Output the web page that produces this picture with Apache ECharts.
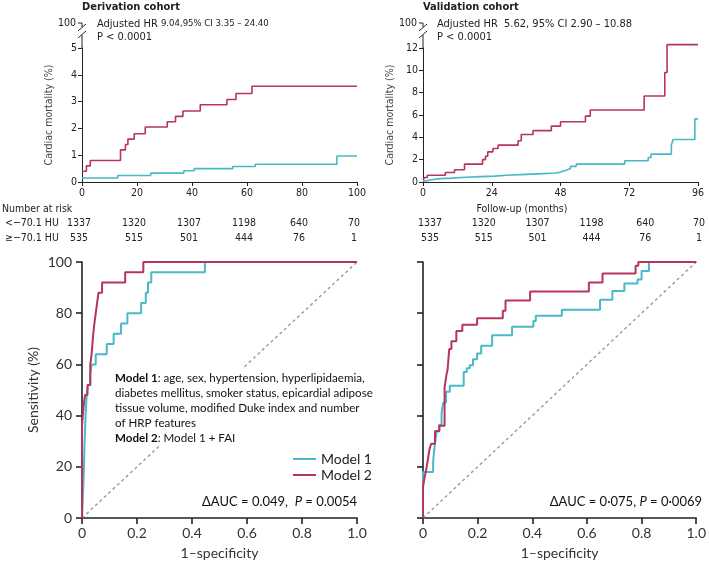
<!DOCTYPE html>
<html><head><meta charset="utf-8">
<script src="https://cdn.jsdelivr.net/npm/echarts@6/dist/echarts.min.js"></script>
<style>html,body{margin:0;padding:0;background:#fff}#c{width:709px;height:562px}</style>
</head><body><div id="c"></div>
<script>
// ---------- Kaplan-Meier data (time, cumulative cardiac mortality %) ----------
const derivHighT = [0, 1.6, 3, 14, 15.8, 16.7, 19, 23, 31, 34, 36.7, 43, 52.7, 56, 61.8, 100];
const derivHighV = [0.4, 0.6, 0.8, 1.2, 1.4, 1.6, 1.8, 2.05, 2.25, 2.45, 2.65, 2.88, 3.08, 3.3, 3.57, 3.57];
const derivLowT = [0, 13, 25, 37, 40.8, 54.8, 63, 92.7, 100];
const derivLowV = [0.15, 0.24, 0.33, 0.42, 0.5, 0.58, 0.66, 0.97, 0.97];

const validHighT = [0, 0.6, 1.5, 7.8, 11, 14.5, 20.8, 21.8, 22.6, 24.4, 26.2, 33.2, 34.3, 38.4, 44.8, 48, 56.7, 58.4, 77.2, 84.4, 85.2, 96];
const validHighV = [0.2, 0.4, 0.6, 0.85, 1.1, 1.6, 2.0, 2.3, 2.7, 3.0, 3.3, 3.7, 4.25, 4.6, 5.0, 5.4, 5.9, 6.45, 7.7, 9.8, 12.3, 12.3];
const validLowT = [0, 1, 3, 6, 10, 15, 20, 25, 29, 36, 42, 46, 47.5, 48.5, 50, 51.5, 53.5, 70.4, 78.6, 79.6, 86.7, 87.3, 94.9, 96];
const validLowV = [0.1, 0.2, 0.3, 0.35, 0.42, 0.48, 0.53, 0.6, 0.68, 0.75, 0.8, 0.85, 0.95, 1.05, 1.2, 1.4, 1.6, 1.9, 2.2, 2.5, 3.3, 3.8, 5.65, 5.65];

const derivTicks = [0, 20, 40, 60, 80, 100];
const validTicks = [0, 24, 48, 72, 96];

// ---------- Number at risk ----------
const riskGroups = ['<\u221270.1 HU', '\u2265\u221270.1 HU'];
const riskLow = [1337, 1320, 1307, 1198, 640, 70];
const riskHigh = [535, 515, 501, 444, 76, 1];

// ---------- ROC data (1-specificity, sensitivity %) ----------
const m1LeftX = [0, 0.003, 0.006, 0.009, 0.013, 0.017, 0.022, 0.03, 0.035, 0.05, 0.09, 0.115, 0.142, 0.165, 0.215, 0.232, 0.24, 0.252, 0.447, 1];
const m1LeftY = [0, 8, 16, 28, 40, 48, 52, 56, 60, 64, 68, 72, 76, 80, 84, 88, 92, 96, 100, 100];
const m2LeftX = [0, 0, 0.006, 0.011, 0.02, 0.03, 0.035, 0.041, 0.045, 0.05, 0.055, 0.06, 0.073, 0.157, 0.223, 1];
const m2LeftY = [0, 36, 44, 48, 52, 60, 64, 72, 76, 80, 84, 88, 92, 96, 100, 100];

const m1RightX = [0, 0, 0.037, 0.043, 0.05, 0.059, 0.068, 0.074, 0.084, 0.098, 0.149, 0.16, 0.171, 0.183, 0.198, 0.213, 0.253, 0.326, 0.404, 0.413, 0.508, 0.648, 0.693, 0.737, 0.785, 0.8, 0.827, 1];
const m1RightY = [0, 18, 22, 28.6, 33.8, 36.4, 41, 45, 49.3, 51.7, 57, 58.5, 59.7, 62, 64.3, 67.3, 71.4, 74.7, 77, 79, 81.3, 85.3, 88.7, 91.6, 93.2, 96.5, 100, 100];
const m2RightX = [0, 0, 0.006, 0.012, 0.018, 0.024, 0.03, 0.044, 0.06, 0.079, 0.086, 0.09, 0.096, 0.104, 0.122, 0.144, 0.198, 0.292, 0.302, 0.392, 0.607, 0.657, 0.778, 0.788, 1];
const m2RightY = [0, 12, 16, 19, 23, 27, 29, 34, 36, 51, 56, 58, 66, 69, 73, 75.5, 78, 81, 85, 88.5, 92, 95.5, 98.5, 100, 100];

const chanceX = [0, 1];
const chanceY = [0, 100];

// ---------- styling ----------
const TEAL = '#48b9c9';
const RED = '#b6345f';
const INK = '#222';
const KMFONT = "'Liberation Sans Narrow', 'DejaVu Sans Condensed', 'Liberation Sans', sans-serif";
const ROCFONT = "Lato, 'Open Sans', sans-serif";

const zip = (xs, ys) => xs.map((x, i) => [x, ys[i]]);

const G = {
  kmL: { left: 82, top: 48, width: 275, height: 134 },
  kmR: { left: 423, top: 48, width: 275, height: 134 },
  rocL: { left: 82, top: 262, width: 275, height: 256 },
  rocR: { left: 423, top: 262, width: 275, height: 256 }
};

function kmX(gridIndex, max, interval) {
  return {
    gridIndex, type: 'value', min: 0, max, interval,
    axisLine: { lineStyle: { color: INK, width: 1 } },
    axisTick: { length: 4, lineStyle: { color: INK } },
    axisLabel: { color: INK, fontSize: 10.5, fontFamily: KMFONT, margin: 6, showMaxLabel: true },
    splitLine: { show: false }
  };
}
function kmY(gridIndex, max, interval) {
  return {
    gridIndex, type: 'value', min: 0, max, interval,
    name: 'Cardiac mortality (%)', nameLocation: 'middle', nameGap: 27,
    nameTextStyle: { color: '#444', fontSize: 10.5, fontFamily: KMFONT },
    axisLine: { show: true, lineStyle: { color: INK, width: 1 } },
    axisTick: { show: true, length: 4, lineStyle: { color: INK } },
    axisLabel: { color: INK, fontSize: 10.5, fontFamily: KMFONT, margin: 5 },
    splitLine: { show: false }
  };
}
function rocX(gridIndex) {
  return {
    gridIndex, type: 'value', min: 0, max: 1, interval: 0.2,
    name: '1\u2013specificity', nameLocation: 'middle', nameGap: 28,
    nameTextStyle: { color: '#333', fontSize: 14, fontFamily: ROCFONT },
    axisLine: { lineStyle: { color: INK, width: 1.6 } },
    axisTick: { length: 6, lineStyle: { color: INK, width: 1.6 } },
    axisLabel: { color: '#333', fontSize: 14, fontFamily: ROCFONT, margin: 8,
      formatter: v => (v === 0 ? '0' : v.toFixed(1)) },
    splitLine: { show: false }
  };
}
function rocY(gridIndex, showLabels) {
  return {
    gridIndex, type: 'value', min: 0, max: 100, interval: 20,
    name: showLabels ? 'Sensitivity (%)' : '', nameLocation: 'middle', nameGap: 42,
    nameTextStyle: { color: '#333', fontSize: 14, fontFamily: ROCFONT },
    axisLine: { show: true, lineStyle: { color: INK, width: 1.6 } },
    axisTick: { show: true, length: 6, lineStyle: { color: INK, width: 1.6 } },
    axisLabel: { show: showLabels, color: '#333', fontSize: 14, fontFamily: ROCFONT, margin: 10 },
    splitLine: { show: false }
  };
}

function stepSeries(name, gi, data, color, width) {
  return {
    name, type: 'line', xAxisIndex: gi, yAxisIndex: gi, step: 'end', data, clip: false,
    showSymbol: false, symbol: 'none', lineStyle: { color, width }, itemStyle: { color },
    z: 3, silent: true, animation: false
  };
}

// ---------- graphic decorations ----------
const graphic = [];
function txt(x, y, text, opt) {
  graphic.push(Object.assign({ type: 'text', x, y, z: 101,
    style: Object.assign({ text, fill: INK, font: '10.5px ' + KMFONT, textVerticalAlign: 'middle' }, opt || {}) }));
}
function ln(x1, y1, x2, y2, w) {
  graphic.push({ type: 'line', z: 101, shape: { x1, y1, x2, y2 }, style: { stroke: INK, lineWidth: w || 1 } });
}

// axis-break marks and "100" label on each KM panel
[G.kmL, G.kmR].forEach(g => {
  const x = g.left;
  ln(x - 4, 23, x, 23);
  ln(x, 23, x, 27);
  ln(x - 4, 31, x + 4, 24);
  ln(x - 4, 38, x + 4, 31);
  ln(x, 35, x, g.top);
  txt(x - 6, 23, '100', { textAlign: 'right' });
});

// titles
txt(G.kmL.left, 7, 'Derivation cohort', { font: 'bold 11px ' + KMFONT });
txt(G.kmR.left, 7, 'Validation cohort', { font: 'bold 11px ' + KMFONT });
txt(G.kmL.left + 15, 24, '{a|Adjusted HR }{b|9.04,95% CI 3.35 \u2013 24.40}', {
  rich: { a: { fontSize: 11, fontFamily: KMFONT, fill: INK }, b: { fontSize: 9.5, fontFamily: KMFONT, fill: INK } }
});
txt(G.kmL.left + 15, 37, 'P < 0.0001', { font: '11px ' + KMFONT });
txt(G.kmR.left + 14, 24, 'Adjusted HR  5.62, 95% CI 2.90 \u2013 10.88', { font: '11px ' + KMFONT });
txt(G.kmR.left + 14, 37, 'P < 0.0001', { font: '11px ' + KMFONT });

// number at risk table
txt(2, 209, 'Number at risk', { font: '10.5px ' + KMFONT });
txt(522, 209, 'Follow-up (months)', { font: '10.5px ' + KMFONT, textAlign: 'center' });
txt(5, 223, riskGroups[0]);
txt(5, 238, riskGroups[1]);
const stepL = G.kmL.width / (derivTicks.length - 1);
const rightStart = G.kmR.left + 7, stepR = 53.8;
[riskLow, riskHigh].forEach((row, r) => {
  const y = 223 + r * 15;
  row.forEach((n, i) => {
    txt(G.kmL.left - 3 + i * stepL, y, String(n), { textAlign: 'center' });
    txt(rightStart + i * stepR, y, String(n), { textAlign: 'center' });
  });
});

// ROC annotations
const roc = { fontSize: 11.6, fontFamily: ROCFONT, fill: '#111' };
graphic.push({ type: 'rect', z: 100, shape: { x: 110, y: 368, width: 252, height: 78 }, style: { fill: '#fff' } });
graphic.push({ type: 'text', x: 115, y: 371, z: 101, style: {
  text: '{b|Model 1}{n|: age, sex, hypertension, hyperlipidaemia,}\n{n|diabetes mellitus, smoker status, epicardial adipose}\n{n|tissue volume, modified Duke index and number}\n{n|of HRP features}\n{b|Model 2}{n|: Model 1 + FAI}',
  rich: { n: Object.assign({ lineHeight: 15 }, roc), b: Object.assign({ lineHeight: 15, fontWeight: 'bold' }, roc) }
}});
function auc(xRight, str1, str2) {
  graphic.push({ type: 'text', x: xRight, y: 502, z: 101, style: {
    text: '{n|' + str1 + '}{i|P}{n|' + str2 + '}', textAlign: 'right', textVerticalAlign: 'middle',
    rich: { n: Object.assign({}, roc, { fontSize: 13 }), i: Object.assign({}, roc, { fontSize: 13, fontStyle: 'italic' }) }
  }});
}
auc(G.rocL.left + G.rocL.width, '\u0394AUC = 0.049,  ', ' = 0.0054');
auc(G.rocR.left + G.rocR.width + 4, '\u0394AUC = 0\u00b7075, ', ' = 0\u00b70069');

const option = {
  animation: false,
  backgroundColor: '#fff',
  grid: [G.kmL, G.kmR, G.rocL, G.rocR].map(g => Object.assign({ containLabel: false }, g)),
  xAxis: [kmX(0, 100, 20), kmX(1, 96, 24), rocX(2), rocX(3)],
  yAxis: [kmY(0, 5, 1), kmY(1, 12, 2), rocY(2, true), rocY(3, false)],
  legend: {
    data: ['Model 1', 'Model 2'], orient: 'vertical', left: 288, top: 447,
    itemWidth: 23, itemHeight: 2, itemGap: 2, icon: 'rect', selectedMode: false, padding: 5,
    textStyle: { fontSize: 14, fontFamily: ROCFONT, color: '#222' }
  },
  series: [
    stepSeries('\u2265\u221270.1 HU deriv', 0, zip(derivHighT, derivHighV), RED, 1.6),
    stepSeries('<\u221270.1 HU deriv', 0, zip(derivLowT, derivLowV), TEAL, 1.6),
    stepSeries('\u2265\u221270.1 HU valid', 1, zip(validHighT, validHighV), RED, 1.6),
    stepSeries('<\u221270.1 HU valid', 1, zip(validLowT, validLowV), TEAL, 1.6),
    { name: 'chanceL', type: 'line', xAxisIndex: 2, yAxisIndex: 2, data: zip(chanceX, chanceY), showSymbol: false,
      lineStyle: { color: '#999', width: 1.4, type: [3, 3] }, z: 2, silent: true },
    { name: 'chanceR', type: 'line', xAxisIndex: 3, yAxisIndex: 3, data: zip(chanceX, chanceY), showSymbol: false,
      lineStyle: { color: '#999', width: 1.4, type: [3, 3] }, z: 2, silent: true },
    stepSeries('Model 1', 2, zip(m1LeftX, m1LeftY), TEAL, 2),
    stepSeries('Model 2', 2, zip(m2LeftX, m2LeftY), RED, 2),
    stepSeries('Model 1', 3, zip(m1RightX, m1RightY), TEAL, 2),
    stepSeries('Model 2', 3, zip(m2RightX, m2RightY), RED, 2)
  ],
  graphic
};

const chart = echarts.init(document.getElementById('c'), null, { renderer: 'canvas' });
chart.setOption(option);
</script></body></html>
